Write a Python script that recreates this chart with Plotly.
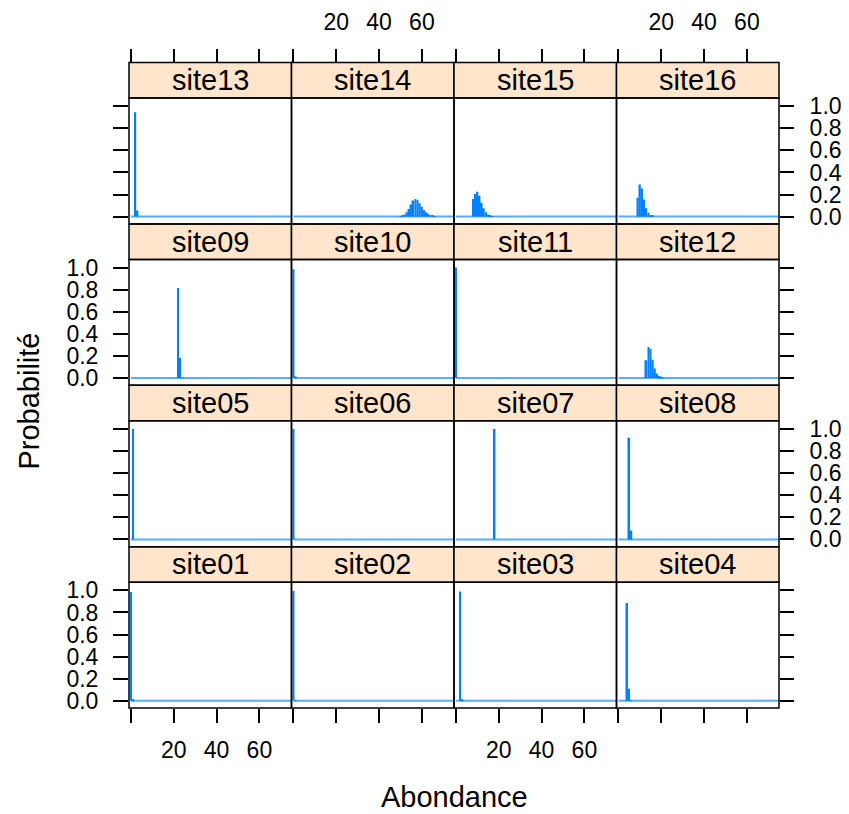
import plotly.graph_objects as go

# ---------------- data ----------------
site_names = ["site01", "site02", "site03", "site04",
              "site05", "site06", "site07", "site08",
              "site09", "site10", "site11", "site12",
              "site13", "site14", "site15", "site16"]

# first abundance value with a non-zero probability, per site
site_start = [0, 0, 2, 4,
              1, 0, 18, 5,
              22, 0, 0, 13,
              2, 50, 8, 9]

# probabilities from site_start onwards (zero elsewhere)
p01 = [0.985, 0.015]
p02 = [0.995, 0.005]
p03 = [0.99, 0.01]
p04 = [0.885, 0.11, 0.005]
p05 = [1.0]
p06 = [1.0]
p07 = [1.0]
p08 = [0.92, 0.08]
p09 = [0.815, 0.18, 0.005]
p10 = [0.985, 0.015]
p11 = [1.0]
p12 = [0.16, 0.28, 0.265, 0.165, 0.085, 0.04, 0.018, 0.007, 0.003]
p13 = [0.945, 0.055]
p14 = [0.005, 0.01, 0.02, 0.04, 0.07, 0.11, 0.145, 0.16, 0.15, 0.12,
       0.09, 0.06, 0.04, 0.025, 0.015, 0.008, 0.004]
p15 = [0.16, 0.205, 0.225, 0.19, 0.125, 0.075, 0.04, 0.02, 0.008, 0.003]
p16 = [0.17, 0.29, 0.255, 0.155, 0.075, 0.035, 0.015, 0.006]
site_probs = [p01, p02, p03, p04, p05, p06, p07, p08,
              p09, p10, p11, p12, p13, p14, p15, p16]

abund_max = 75                       # abundance support 0..75
x_tick_vals = [0, 20, 40, 60]
x_tick_text = ["", "20", "40", "60"]
y_tick_vals = [0.0, 0.2, 0.4, 0.6, 0.8, 1.0]
y_tick_text = ["0.0", "0.2", "0.4", "0.6", "0.8", "1.0"]

# ---------------- layout geometry (pixels) ----------------
W, H = 849, 814
col_left = [129, 291.5, 454, 616.5]
col_w = 162.5
row_top = [94.3, 257.9, 421.5, 585.1]   # panel tops, top row first
panel_h = 127.6
strip_h = 36
X_RANGE = [-0.93, 75.0]
Y_RANGE = [-0.066, 1.074]
BLUE = "#0080ff"
STRIP = "#ffe5cc"
FONT = "Liberation Sans, Arial, Helvetica, sans-serif"

def px(x):
    return x / W

def py(y):
    return 1 - y / H

fig = go.Figure()
shapes = []
annotations = []
full_x = list(range(0, abund_max + 1))

for i, name in enumerate(site_names):
    r_from_bottom = i // 4
    c = i % 4
    r = 3 - r_from_bottom          # 0 = top row
    k = i + 1
    xa = "x" if k == 1 else f"x{k}"
    ya = "y" if k == 1 else f"y{k}"
    xkey = "xaxis" if k == 1 else f"xaxis{k}"
    ykey = "yaxis" if k == 1 else f"yaxis{k}"

    start = site_start[i]
    probs = site_probs[i]
    xs = [start + j for j in range(len(probs))]

    # baseline of zero probabilities across the support
    fig.add_trace(go.Scatter(x=full_x, y=[0] * len(full_x), mode="lines",
                             line=dict(color=BLUE, width=2), opacity=0.65,
                             xaxis=xa, yaxis=ya, showlegend=False, hoverinfo="skip"))
    fig.add_trace(go.Bar(x=xs, y=probs, width=0.85,
                         marker=dict(color=BLUE, line=dict(width=0)),
                         xaxis=xa, yaxis=ya, showlegend=False))

    l = col_left[c]
    t = row_top[r]
    xdom = [px(l), px(l + col_w)]
    ydom = [py(t + panel_h), py(t)]

    xaxis = dict(domain=xdom, range=X_RANGE, anchor=ya, showgrid=False,
                 zeroline=False, showline=False, fixedrange=True,
                 tickfont=dict(family=FONT, size=23, color="black"))
    if r == 3:   # bottom row
        xaxis.update(side="bottom", ticks="outside", ticklen=14, tickwidth=1.5,
                     tickcolor="black", tickvals=x_tick_vals,
                     ticktext=x_tick_text if c in (0, 2) else [""] * 4,
                     ticklabelstandoff=7)
    elif r == 0:  # top row: ticks above the strip
        xaxis.update(side="top", anchor="free", position=py(t - strip_h),
                     ticks="outside", ticklen=14, tickwidth=1.5, tickcolor="black",
                     tickvals=x_tick_vals,
                     ticktext=x_tick_text if c in (1, 3) else [""] * 4,
                     ticklabelstandoff=9)
    else:
        xaxis.update(ticks="", showticklabels=False)

    yaxis = dict(domain=ydom, range=Y_RANGE, anchor=xa, showgrid=False,
                 zeroline=False, showline=False, fixedrange=True,
                 tickfont=dict(family=FONT, size=23, color="black"))
    if c == 0:
        yaxis.update(side="left", ticks="outside", ticklen=15, tickwidth=1.5,
                     tickcolor="black", tickvals=y_tick_vals,
                     ticktext=y_tick_text if r in (1, 3) else [""] * 6,
                     ticklabelstandoff=10)
    elif c == 3:
        yaxis.update(side="right", ticks="outside", ticklen=14, tickwidth=1.5,
                     tickcolor="black", tickvals=y_tick_vals,
                     ticktext=y_tick_text if r in (0, 2) else [""] * 6,
                     ticklabelstandoff=11)
    else:
        yaxis.update(ticks="", showticklabels=False)

    fig.update_layout({xkey: xaxis, ykey: yaxis})

    # strip
    shapes.append(dict(type="rect", xref="paper", yref="paper",
                       x0=px(l), x1=px(l + col_w), y0=py(t), y1=py(t - strip_h),
                       fillcolor=STRIP, line=dict(color="black", width=1.5),
                       layer="above"))
    # panel border
    shapes.append(dict(type="rect", xref="paper", yref="paper",
                       x0=px(l), x1=px(l + col_w), y0=py(t + panel_h), y1=py(t),
                       fillcolor="rgba(0,0,0,0)", line=dict(color="black", width=1.5),
                       layer="above"))
    annotations.append(dict(text=name, xref="paper", yref="paper",
                            x=px(l + col_w / 2), y=py(t - strip_h / 2),
                            xanchor="center", yanchor="middle", showarrow=False,
                            font=dict(family=FONT, size=29, color="black")))

annotations.append(dict(text="Abondance", xref="paper", yref="paper",
                        x=px(454), y=py(803), xanchor="center", yanchor="middle",
                        showarrow=False, font=dict(family=FONT, size=29, color="black")))
annotations.append(dict(text="Probabilité", xref="paper", yref="paper",
                        x=px(29), y=py(402), xanchor="center", yanchor="middle",
                        textangle=-90, showarrow=False,
                        font=dict(family=FONT, size=29, color="black")))

fig.update_layout(width=W, height=H, margin=dict(l=0, r=0, t=0, b=0),
                  paper_bgcolor="white", plot_bgcolor="white",
                  shapes=shapes, annotations=annotations, barmode="overlay",
                  showlegend=False)

fig.write_html("out.html", config={"displayModeBar": False},
               post_script="document.body.style.margin='0px';"
                           "document.body.style.overflow='hidden';")
